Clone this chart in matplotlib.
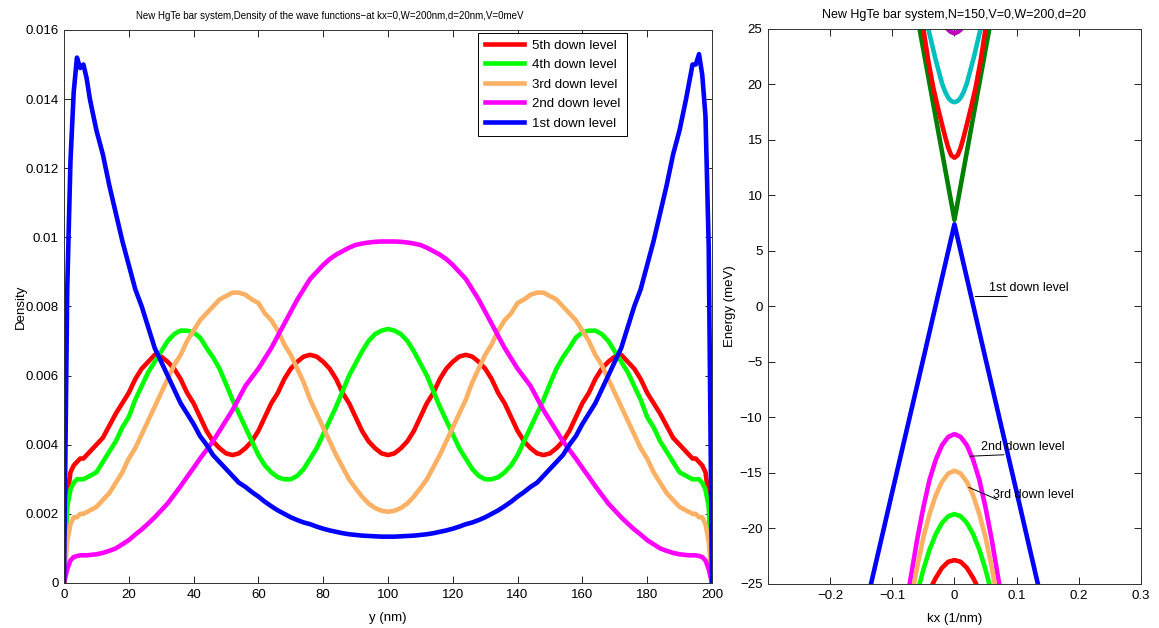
import numpy as np
import matplotlib
matplotlib.use("Agg")
import matplotlib.pyplot as plt
from matplotlib.ticker import FuncFormatter

plt.rcParams['font.family'] = ['Liberation Sans', 'DejaVu Sans']

# ---- left panel: density of the wave functions at kx=0 ----
y_nm = [0, 1, 2, 3, 4, 5, 6, 7, 8] + list(range(10, 193, 2)) + \
       [193, 194, 195, 196, 197, 198, 199, 200]

# values for y = 0..100 and y = 102..200
dens_5th_l = [0, .0025, .0032, .0034, .0035, .0036, .0036, .0037, .0038,
              .0040, .0042, .00455, .0049, .0052, .0055, .0059, .0062, .0064, .0066,
              .00655, .0064, .0062, .0059, .0055, .0052, .0048, .0044, .0041, .0039,
              .00375, .0037, .00375, .0039, .0041, .0044, .0048, .0052, .0055, .0059,
              .0062, .0064, .00655, .0066, .00655, .0064, .0062, .0059, .0055, .0052,
              .0048, .0044, .0041, .0039, .00375, .0037]
dens_5th_r = [.00375, .0039, .0041, .0044, .0048, .0052, .0055, .0059, .0062, .0064,
              .00655, .0066, .00655, .0064, .0062, .0059, .0055, .0052, .0048, .0044,
              .0041, .0039, .00375, .0037, .00375, .0039, .0041, .0044, .0048, .0052,
              .0055, .0059, .0062, .0064, .00655, .0066, .0064, .0062, .0059, .0055,
              .0052, .0049, .00455, .0042, .0040, .0038, .0037, .0036, .0036, .0035,
              .0034, .0032, .0025, 0]

dens_4th_l = [0, .0022, .0027, .0029, .0030, .0030, .0030, .00305, .0031,
              .0032, .0035, .0038, .0041, .0045, .0048, .0053, .0057, .0061, .0064,
              .0067, .0070, .0072, .0073, .0073, .00725, .0071, .0068, .00653, .0062,
              .00576, .0053, .0049, .0045, .0041, .0037, .0034, .0032, .00306, .0030,
              .0030, .0031, .0033, .0036, .0039, .0043, .0047, .0051, .00555, .0060,
              .00635, .0067, .0070, .0072, .0073, .00735]
dens_4th_r = [.0073, .0072, .0070, .0067, .00635, .0060, .00555, .0051, .0047, .0043,
              .0039, .0036, .0033, .0031, .0030, .0030, .00306, .0032, .0034, .0037,
              .0041, .0045, .0049, .0053, .00576, .0062, .00653, .0068, .0071, .00725,
              .0073, .0073, .0072, .0070, .0067, .0064, .0061, .0057, .0053, .0048,
              .0045, .0041, .0038, .0035, .0032, .0031, .00305, .0030, .0030, .0030,
              .0029, .0027, .0022, 0]

dens_3rd_l = [0, .0012, .0017, .0019, .0019, .0020, .0020, .00205, .0021,
              .0022, .0024, .0026, .0029, .0032, .0036, .0039, .0043, .0047, .0051,
              .0055, .0059, .0063, .0066, .0070, .0073, .0076, .0078, .0080, .0082,
              .0083, .0084, .0084, .00834, .0082, .0081, .0078, .0076, .0073, .0069,
              .0066, .0062, .0058, .0053, .0049, .0045, .0041, .0037, .00335, .0030,
              .00274, .0025, .0023, .00217, .00209, .00206]
dens_3rd_r = [.00209, .00217, .0023, .0025, .00274, .0030, .00335, .0037, .0041, .0045,
              .0049, .0053, .0058, .0062, .0066, .0069, .0073, .0076, .0078, .0081,
              .0082, .00834, .0084, .0084, .0083, .0082, .0080, .0078, .0076, .0073,
              .0070, .0066, .0063, .0059, .0055, .0051, .0047, .0043, .0039, .0036,
              .0032, .0029, .0026, .0024, .0022, .0021, .00205, .0020, .0020, .0019,
              .0019, .0017, .0012, 0]

dens_2nd_l = [0, .0004, .00065, .00075, .00078, .0008, .0008, .0008, .00081,
              .00083, .00087, .00093, .0010, .00112, .00124, .0014, .00155, .00172, .0019,
              .0021, .0023, .00255, .0028, .00307, .00333, .0036, .00385, .0041, .0044,
              .0047, .0050, .00535, .0057, .00595, .0062, .0065, .0068, .00715, .0075,
              .00785, .0082, .0085, .0088, .0090, .0092, .00937, .0095, .0096, .0097,
              .00978, .00982, .00985, .00987, .00988, .00988]
dens_2nd_r = [.00988, .00987, .00985, .00982, .00978, .0097, .0096, .0095, .00937, .0092,
              .0090, .0088, .0085, .0082, .00785, .0075, .00715, .0068, .0065, .0062,
              .00595, .0057, .00535, .0050, .0047, .0044, .0041, .00385, .0036, .00333,
              .00307, .0028, .00255, .0023, .0021, .0019, .00172, .00155, .0014, .00124,
              .00112, .0010, .00093, .00087, .00083, .00081, .0008, .0008, .0008, .00078,
              .00075, .00065, .0004, 0]

dens_1st_l = [0, .0085, .0122, .0142, .0152, .0149, .0150, .0146, .0140,
              .0131, .0124, .0115, .0107, .0099, .0092, .0085, .0080, .0074, .0068,
              .0064, .0060, .0056, .0052, .0049, .0046, .00425, .0040, .0037, .0035,
              .0033, .0031, .0029, .00278, .00263, .0025, .00235, .00222, .0021, .0020,
              .0019, .00182, .00175, .0017, .00163, .00157, .00152, .00148, .00144, .00141,
              .00139, .00137, .00136, .00135, .00134, .00134]
dens_1st_r = [.00134, .00135, .00136, .00137, .00139, .00141, .00144, .00148, .00152, .00157,
              .00163, .0017, .00175, .00182, .0019, .0020, .0021, .00222, .00235, .0025,
              .00263, .00278, .0029, .0031, .0033, .0035, .0037, .0040, .00425, .0046,
              .0049, .0052, .0056, .0060, .0064, .0068, .0074, .0080, .0085, .0092,
              .0099, .0107, .0115, .0124, .0131, .0140, .0145, .0150, .0150, .0153,
              .0147, .0135, .0097, 0]

levels = ["5th down level", "4th down level", "3rd down level",
          "2nd down level", "1st down level"]

# ---- right panel: band structure ----
kx_1st = [-0.14, -0.1, -0.05, 0, 0.05, 0.1, 0.14]
E_1st = [-26.4, -16.7, -4.7, 7.4, -4.7, -16.7, -26.4]
kx_2nd = [-0.076, -0.072, -0.06, -0.05, -0.04, -0.03, -0.02, -0.01, 0,
          0.01, 0.02, 0.03, 0.04, 0.05, 0.06, 0.072, 0.076]
E_2nd = [-26.4, -25.0, -21.0, -18.1, -15.6, -13.8, -12.5, -11.75, -11.5,
         -11.75, -12.5, -13.8, -15.6, -18.1, -21.0, -25.0, -26.4]
kx_3rd = [-0.07, -0.065, -0.06, -0.05, -0.04, -0.03, -0.02, -0.01, 0,
          0.01, 0.02, 0.03, 0.04, 0.05, 0.06, 0.065, 0.07]
E_3rd = [-26.6, -25.0, -23.5, -20.8, -18.7, -17.0, -15.8, -15.05, -14.8,
         -15.05, -15.8, -17.0, -18.7, -20.8, -23.5, -25.0, -26.6]
kx_4th = [-0.06, -0.056, -0.05, -0.04, -0.03, -0.02, -0.01, 0,
          0.01, 0.02, 0.03, 0.04, 0.05, 0.056, 0.06]
E_4th = [-25.9, -25.0, -23.7, -21.9, -20.5, -19.5, -18.9, -18.7,
         -18.9, -19.5, -20.5, -21.9, -23.7, -25.0, -25.9]
kx_5th = [-0.04, -0.035, -0.03, -0.02, -0.01, 0, 0.01, 0.02, 0.03, 0.035, 0.04]
E_5th = [-25.7, -25.0, -24.45, -23.55, -23.0, -22.85, -23.0, -23.55, -24.45, -25.0, -25.7]

kx_up1 = [-0.06, -0.03, 0, 0.03, 0.06]
E_up1 = [26.2, 17.0, 7.8, 17.0, 26.2]
kx_up2 = [-0.053, -0.05, -0.042, -0.034, -0.027, -0.02, -0.015, -0.01, -0.005, 0,
          0.005, 0.01, 0.015, 0.02, 0.027, 0.034, 0.042, 0.05, 0.053]
E_up2 = [26.0, 25.0, 22.1, 19.7, 18.0, 16.4, 15.3, 14.3, 13.6, 13.4,
         13.6, 14.3, 15.3, 16.4, 18.0, 19.7, 22.1, 25.0, 26.0]
kx_up3 = [-0.045, -0.042, -0.031, -0.02, -0.015, -0.01, -0.005, 0,
          0.005, 0.01, 0.015, 0.02, 0.031, 0.042, 0.045]
E_up3 = [26.0, 25.0, 22.4, 20.1, 19.35, 18.8, 18.5, 18.4,
         18.5, 18.8, 19.35, 20.1, 22.4, 25.0, 26.0]
kx_up4 = [-0.016, -0.011, -0.006, 0, 0.006, 0.011, 0.016]
E_up4 = [25.6, 25.0, 24.75, 24.6, 24.75, 25.0, 25.6]

RED = '#ff0000'
GREEN = '#00ff00'
ORANGE = '#fcb064'
MAGENTA = '#ff00ff'
BLUE = '#0000ff'

fig = plt.figure(figsize=(11.59, 6.28), dpi=100)
ax1 = fig.add_axes([0.0552, 0.0717, 0.5591, 0.8806])
ax2 = fig.add_axes([0.6626, 0.0701, 0.3218, 0.8838])

lw = 3.3
dens = [dens_5th_l + dens_5th_r, dens_4th_l + dens_4th_r, dens_3rd_l + dens_3rd_r,
        dens_2nd_l + dens_2nd_r, dens_1st_l + dens_1st_r]
cols = [RED, GREEN, ORANGE, MAGENTA, BLUE]
for d, c, name in zip(dens, cols, levels):
    assert len(d) == len(y_nm), (name, len(d), len(y_nm))
    ax1.plot(y_nm, d, color=c, lw=lw, label=name, solid_joinstyle='round')

ax1.set_xlim(0, 200)
ax1.set_ylim(0, 0.016)
ax1.set_xticks(np.arange(0, 201, 20))
ax1.set_yticks(np.arange(0, 0.0161, 0.002))
ax1.yaxis.set_major_formatter(FuncFormatter(lambda v, p: '%g' % round(v, 4)))
ax1.set_xlabel('y (nm)', fontsize=9.5)
ax1.set_ylabel('Density', fontsize=9.5)
ax1.xaxis.set_label_coords(0.5, -0.052)
ax1.yaxis.set_label_coords(-0.057, 0.5)
ax1.set_title('New HgTe bar system,Density of the wave functions\u2212at kx=0,W=200nm,d=20nm,V=0meV',
              fontsize=7, pad=8, x=0.41)
leg = ax1.legend(loc='upper left', bbox_to_anchor=(0.639, 0.995), fontsize=9.5,
                 frameon=True, fancybox=False, edgecolor='black', framealpha=1,
                 handlelength=3.0, labelspacing=0.55, borderpad=0.5,
                 handletextpad=0.6, borderaxespad=0)
leg.get_frame().set_linewidth(0.7)

# right panel
ax2.plot(kx_1st, E_1st, color=BLUE, lw=lw)
ax2.plot(kx_up1, E_up1, color='#008000', lw=lw)
ax2.plot(kx_up2, E_up2, color=RED, lw=lw)
ax2.plot(kx_up3, E_up3, color='#00bfbf', lw=lw)
ax2.plot(kx_up4, E_up4, color='#bf00bf', lw=lw)
ax2.plot(kx_2nd, E_2nd, color=MAGENTA, lw=lw)
ax2.plot(kx_3rd, E_3rd, color=ORANGE, lw=lw)
ax2.plot(kx_4th, E_4th, color=GREEN, lw=lw)
ax2.plot(kx_5th, E_5th, color=RED, lw=lw)

ax2.set_xlim(-0.3, 0.3)
ax2.set_ylim(-25, 25)
ax2.set_xticks([-0.3, -0.2, -0.1, 0, 0.1, 0.2, 0.3])
ax2.set_xticklabels(['', '\u22120.2', '\u22120.1', '0', '0.1', '0.2', '0.3'])
ax2.set_yticks(np.arange(-25, 26, 5))
ax2.set_xlabel('kx (1/nm)', fontsize=9.5)
ax2.set_ylabel('Energy (meV)', fontsize=9.5)
ax2.xaxis.set_label_coords(0.5, -0.052)
ax2.yaxis.set_label_coords(-0.086, 0.5)
ax2.set_title('New HgTe bar system,N=150,V=0,W=200,d=20', fontsize=9, pad=8)

# level annotations
ax2.annotate('', xy=(0.029, 0.9), xytext=(0.0895, 0.9),
             arrowprops=dict(arrowstyle='-', lw=0.7, color='black'))
ax2.text(0.056, 1.1, '1st down level', fontsize=9, va='bottom', ha='left')
ax2.annotate('', xy=(0.021, -13.5), xytext=(0.084, -13.35),
             arrowprops=dict(arrowstyle='-', lw=0.7, color='black'))
ax2.text(0.043, -13.2, '2nd down level', fontsize=9, va='bottom', ha='left')
ax2.annotate('', xy=(0.019, -16.2), xytext=(0.0735, -17.5),
             arrowprops=dict(arrowstyle='-', lw=0.7, color='black'))
ax2.text(0.062, -17.5, '3rd down level', fontsize=9, va='bottom', ha='left')

for ax in (ax1, ax2):
    ax.tick_params(direction='in', top=True, right=True, length=5, width=0.6,
                   labelsize=9.5, pad=4)
    for s in ax.spines.values():
        s.set_linewidth(0.7)
        s.set_color('#333333')

fig.savefig('out.png', dpi=100)
